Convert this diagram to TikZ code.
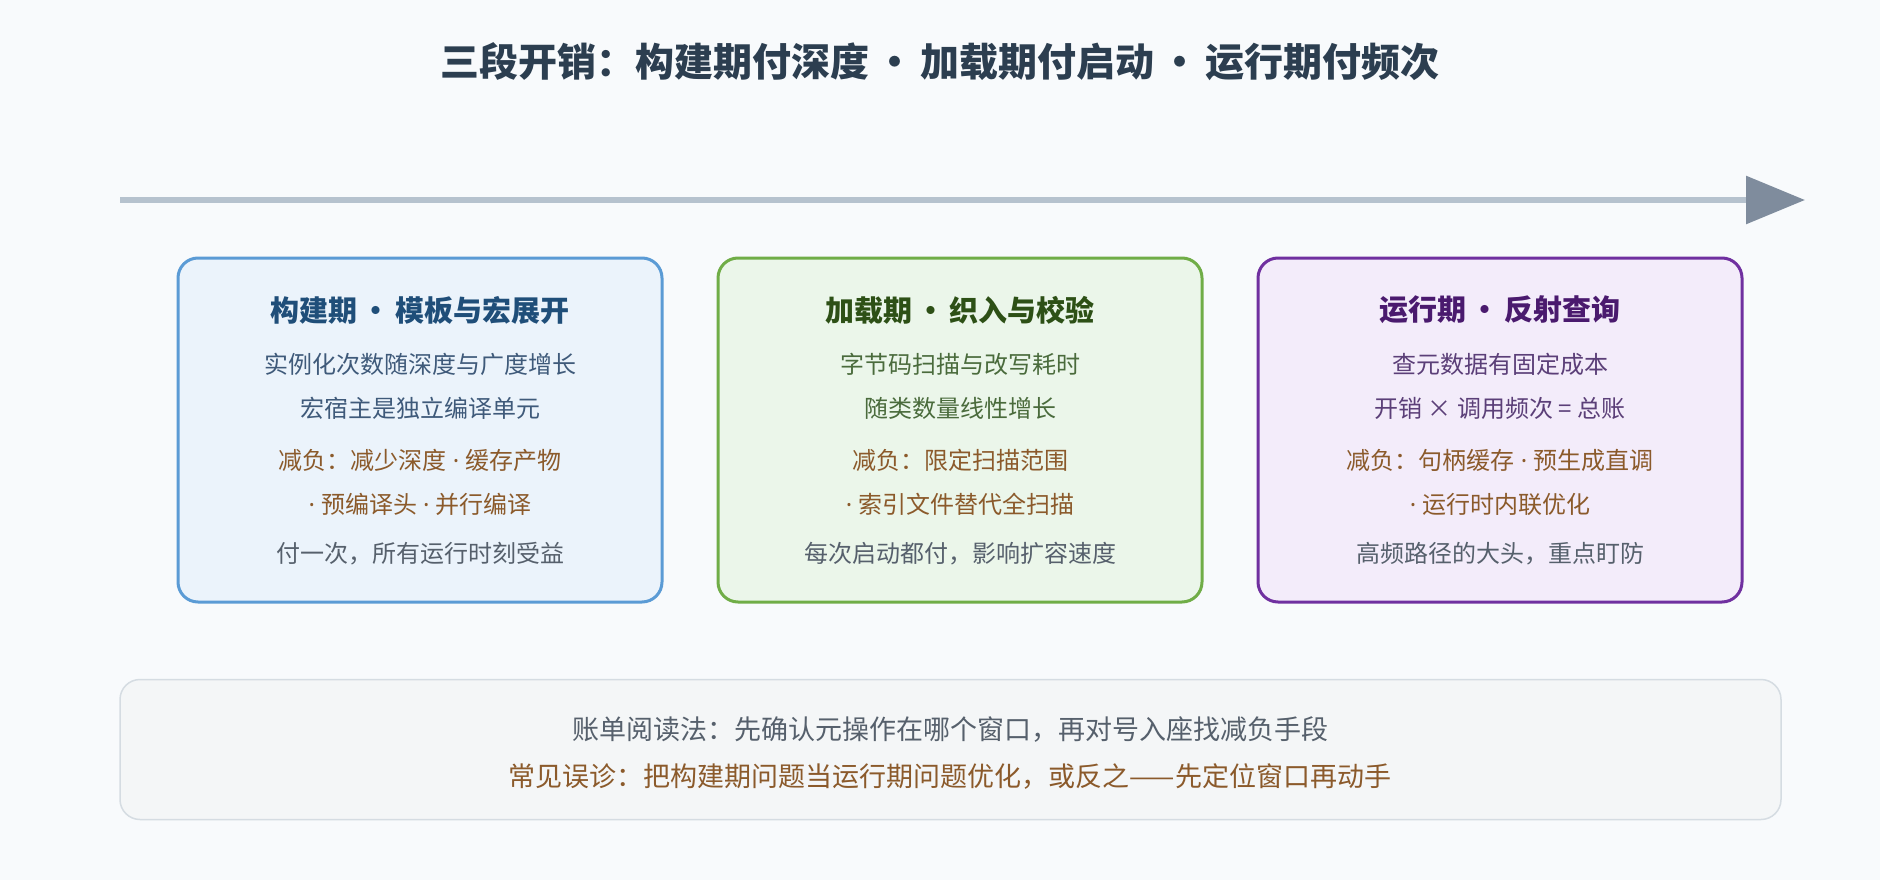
\documentclass[tikz,border=0pt]{standalone}
\usepackage{fontspec}
\setmainfont{Noto Sans CJK SC}
\newfontfamily\latinf{Noto Sans}
\newcommand{\bul}{\hspace{0.15em}•\hspace{0.15em}}
\newcommand{\md}{\hspace{0.25em}{\latinf ·}\hspace{0.25em}}
\newcommand{\mdlead}{{\latinf ·}\hspace{0.25em}}
\usetikzlibrary{arrows.meta}
\definecolor{bg}{HTML}{F8FAFC}
\definecolor{titlecol}{HTML}{2C3E50}
\definecolor{axline}{HTML}{B6C2CE}
\definecolor{axhead}{HTML}{7F8C9D}
\definecolor{cab}{HTML}{5B9BD5}
\definecolor{caf}{HTML}{EBF3FB}
\definecolor{cat}{HTML}{1F4E79}
\definecolor{cax}{HTML}{3F5A7A}
\definecolor{cbb}{HTML}{70AD47}
\definecolor{cbf}{HTML}{EBF6EA}
\definecolor{cbt}{HTML}{2D5016}
\definecolor{cbx}{HTML}{4A6B3C}
\definecolor{ccb}{HTML}{7030A0}
\definecolor{ccf}{HTML}{F3ECFA}
\definecolor{cct}{HTML}{4A1A6E}
\definecolor{ccx}{HTML}{5B3F78}
\definecolor{relief}{HTML}{8B5A2B}
\definecolor{note}{HTML}{56606C}
\definecolor{footb}{HTML}{D5DCE2}
\definecolor{footf}{HTML}{F4F6F7}
\tikzset{
  maintitle/.style={font=\fontsize{39}{44}\selectfont\bfseries, text=titlecol, inner sep=0pt},
  card/.style={rounded corners=20pt, line width=3pt, minimum width=484pt, minimum height=344pt, inner sep=0pt},
  cardtitle/.style={font=\fontsize{29}{33}\selectfont\bfseries, inner sep=0pt},
  body/.style={font=\fontsize{24}{28}\selectfont, inner sep=0pt},
  foot/.style={rounded corners=20pt, line width=1.5pt, draw=footb, fill=footf, minimum width=1661pt, minimum height=140pt, inner sep=0pt},
  foottext/.style={font=\fontsize{27}{30}\selectfont, inner sep=0pt},
}
\begin{document}
\begin{tikzpicture}[x=1pt,y=-1pt]
\useasboundingbox (0,0) rectangle (1880,880);
\fill[bg] (0,0) rectangle (1880,880);

\node[maintitle] (title) at (940,62) {三段开销：构建期付深度\bul 加载期付启动\bul 运行期付频次};

\coordinate (axS) at (120,200);
\coordinate (axE) at (1805,200);
\draw[line width=6pt, axline, -{Triangle[length=59pt,width=47pt,color=axhead]}] (axS) -- (axE);

% card 1
\node[card, draw=cab, fill=caf] (c1) at (420,430) {};
\node[cardtitle, text=cat] (c1t) at (420,310) {构建期\bul 模板与宏展开};
\node[body, text=cax] (c1a) at (420,364) {实例化次数随深度与广度增长};
\node[body, text=cax] (c1b) at (420,408) {宏宿主是独立编译单元};
\node[body, text=relief] (c1c) at (420,460) {减负：减少深度\md 缓存产物};
\node[body, text=relief] (c1d) at (420,504) {\mdlead 预编译头\md 并行编译};
\node[body, text=note] (c1e) at (420,554) {付一次，所有运行时刻受益};

% card 2
\node[card, draw=cbb, fill=cbf] (c2) at (960,430) {};
\node[cardtitle, text=cbt] (c2t) at (960,310) {加载期\bul 织入与校验};
\node[body, text=cbx] (c2a) at (960,364) {字节码扫描与改写耗时};
\node[body, text=cbx] (c2b) at (960,408) {随类数量线性增长};
\node[body, text=relief] (c2c) at (960,460) {减负：限定扫描范围};
\node[body, text=relief] (c2d) at (960,504) {\mdlead 索引文件替代全扫描};
\node[body, text=note] (c2e) at (960,554) {每次启动都付，影响扩容速度};

% card 3
\node[card, draw=ccb, fill=ccf] (c3) at (1500,430) {};
\node[cardtitle, text=cct] (c3t) at (1500,310) {运行期\bul 反射查询};
\node[body, text=ccx] (c3a) at (1500,364) {查元数据有固定成本};
\node[body, text=ccx] (c3b) at (1500,408) {开销 × 调用频次 = 总账};
\node[body, text=relief] (c3c) at (1500,460) {减负：句柄缓存\md 预生成直调};
\node[body, text=relief] (c3d) at (1500,504) {\mdlead 运行时内联优化};
\node[body, text=note] (c3e) at (1500,554) {高频路径的大头，重点盯防};

% footer
\node[foot] (ft) at (950.5,749.5) {};
\node[foottext, text=note] (fta) at (950,730) {账单阅读法：先确认元操作在哪个窗口，再对号入座找减负手段};
\node[foottext, text=relief] (ftb) at (950,777) {常见误诊：把构建期问题当运行期问题优化，或反之——先定位窗口再动手};
\end{tikzpicture}
\end{document}
